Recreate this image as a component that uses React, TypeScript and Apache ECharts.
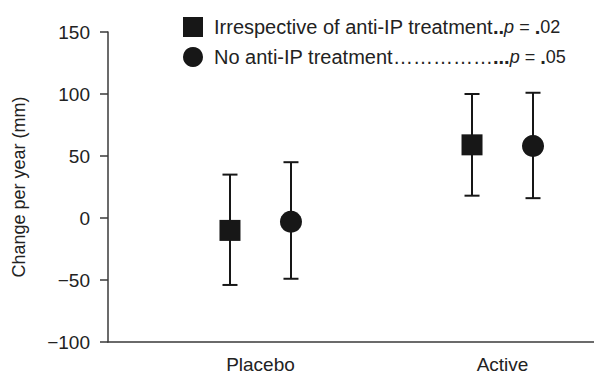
import React, { useEffect, useRef } from "react";
import * as echarts from "echarts";

const categories = ["Placebo", "Active"];
const categoryPositions = [1, 2];
const seriesNames = ["Irrespective of anti-IP treatment", "No anti-IP treatment"];
const irrespectiveMean = [-10, 59];
const irrespectiveLow = [-54, 18];
const irrespectiveHigh = [35, 100];
const noAntiMean = [-3, 58];
const noAntiLow = [-49, 16];
const noAntiHigh = [45, 101];
const yTicks = [-100, -50, 0, 50, 100, 150];

const FONT = "'Liberation Sans', Arial, Helvetica, sans-serif";
const INK = "#171717";
const OFFSET = 0.126;
const FS = 19;

export default function App() {
  const ref = useRef<HTMLDivElement>(null);
  useEffect(() => {
    if (!ref.current) return;
    const chart = echarts.init(ref.current, undefined, { renderer: "svg" });

    const sqPts = categoryPositions.map((p, i) => [p - OFFSET, irrespectiveMean[i]]);
    const ciPts = categoryPositions.map((p, i) => [p + OFFSET, noAntiMean[i]]);
    const sqErr = categoryPositions.map((p, i) => [p - OFFSET, irrespectiveLow[i], irrespectiveHigh[i]]);
    const ciErr = categoryPositions.map((p, i) => [p + OFFSET, noAntiLow[i], noAntiHigh[i]]);

    const errRender = (params: any, api: any) => {
      const x = api.value(0);
      const lo = api.coord([x, api.value(1)]);
      const hi = api.coord([x, api.value(2)]);
      const hw = 7.5;
      const st = { stroke: INK, lineWidth: 2 };
      return {
        type: "group",
        children: [
          { type: "line", shape: { x1: lo[0], y1: lo[1], x2: hi[0], y2: hi[1] }, style: st },
          { type: "line", shape: { x1: lo[0] - hw, y1: lo[1], x2: lo[0] + hw, y2: lo[1] }, style: st },
          { type: "line", shape: { x1: hi[0] - hw, y1: hi[1], x2: hi[0] + hw, y2: hi[1] }, style: st },
        ],
      };
    };

    const richBase = { fontSize: 20, lineHeight: 20, fontFamily: FONT, color: "#222" };
    const richSmall = { fontSize: 18, lineHeight: 20, fontFamily: FONT, color: "#222" };

    chart.setOption({
      animation: false,
      backgroundColor: "#fff",
      grid: { left: 108, right: 0, top: 32, bottom: 37 },
      legend: {
        orient: "vertical",
        left: 178,
        top: 12,
        itemWidth: 20,
        itemHeight: 20,
        itemGap: 10,
        data: [
          { name: seriesNames[0], icon: "rect" },
          { name: seriesNames[1], icon: "circle" },
        ],
        formatter: (name: string) =>
          name === seriesNames[0]
            ? `{f|${seriesNames[0]}}{b|..}{i|p}{n| = }{b|.}{n|02}`
            : `{f|${seriesNames[1]}}{d|……………}{b|...}{i|p}{n| = }{b|.}{n|05}`,
        textStyle: {
          ...richBase,
          rich: {
            f: { ...richBase, padding: [0, 0, 0, 6] },
            d: { ...richBase },
            n: { ...richSmall },
            b: { ...richSmall, fontSize: 20, fontWeight: "bold" },
            i: { ...richSmall, fontStyle: "italic" },
          },
        },
      },
      xAxis: {
        type: "value",
        min: 0.37,
        max: 2.378,
        axisLine: { show: true, onZero: false, lineStyle: { color: "#3a3a3a", width: 1.5 } },
        axisTick: { show: false },
        splitLine: { show: false },
        axisLabel: {
          customValues: categoryPositions,
          formatter: (v: number) => categories[categoryPositions.indexOf(Math.round(v))] ?? "",
          fontSize: FS,
          fontFamily: FONT,
          color: "#222",
          margin: 13,
        },
      },
      yAxis: {
        type: "value",
        min: yTicks[0],
        max: yTicks[yTicks.length - 1],
        interval: 50,
        name: "Change per year (mm)",
        nameLocation: "middle",
        nameGap: 80,
        nameTextStyle: { fontSize: 18, fontFamily: FONT, color: "#222" },
        axisLine: { show: true, onZero: false, lineStyle: { color: "#3a3a3a", width: 1.5 } },
        axisTick: { show: true, inside: false, length: 8, lineStyle: { color: "#3a3a3a", width: 1.5 } },
        splitLine: { show: false },
        axisLabel: {
          fontSize: FS,
          fontFamily: FONT,
          color: "#222",
          margin: 18,
          formatter: (v: number) => (v < 0 ? "\u2212" + Math.abs(v) : String(v)),
        },
      },
      series: [
        {
          type: "custom",
          name: "errA",
          renderItem: errRender,
          data: sqErr,
          encode: { x: 0, y: [1, 2] },
          z: 2,
          silent: true,
        },
        {
          type: "custom",
          name: "errB",
          renderItem: errRender,
          data: ciErr,
          encode: { x: 0, y: [1, 2] },
          z: 2,
          silent: true,
        },
        {
          type: "scatter",
          name: seriesNames[0],
          symbol: "rect",
          symbolSize: 21,
          data: sqPts,
          itemStyle: { color: INK, opacity: 1 },
          z: 3,
        },
        {
          type: "scatter",
          name: seriesNames[1],
          symbol: "circle",
          symbolSize: 22,
          data: ciPts,
          itemStyle: { color: INK, opacity: 1 },
          z: 3,
        },
      ],
    });
    return () => chart.dispose();
  }, []);
  return (
    <div
      ref={ref}
      style={{ position: "absolute", left: 0, top: 0, width: 594, height: 379 }}
    />
  );
}
